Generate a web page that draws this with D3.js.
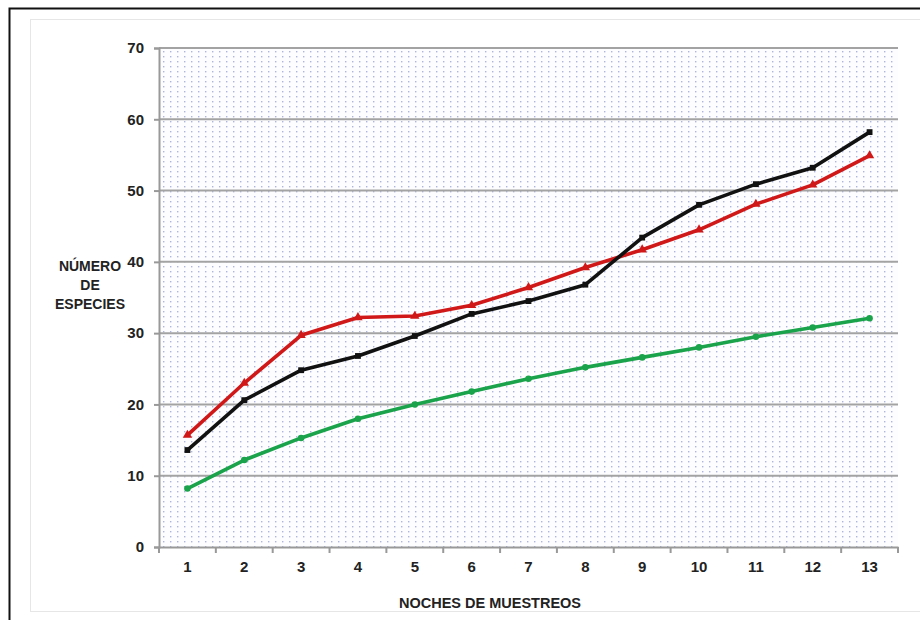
<!DOCTYPE html>
<html>
<head>
<meta charset="utf-8">
<script src="https://cdn.jsdelivr.net/npm/d3@7"></script>
<style>
  body { margin: 0; background: #fff; }
  text { font-family: "Liberation Sans Narrow", "Liberation Sans", Arial, sans-serif; font-weight: bold; fill: #222; }
</style>
</head>
<body>
<script>
const width = 920;
const height = 620;

// datos
const noches = ["1","2","3","4","5","6","7","8","9","10","11","12","13"];
const negra = [13.6, 20.6, 24.8, 26.8, 29.6, 32.7, 34.5, 36.8, 43.4, 48.0, 50.9, 53.2, 58.2];
const roja = [15.7, 23.0, 29.7, 32.2, 32.4, 33.9, 36.4, 39.2, 41.7, 44.5, 48.1, 50.8, 54.9];
const verde = [8.2, 12.2, 15.3, 18.0, 20.0, 21.8, 23.6, 25.2, 26.6, 28.0, 29.5, 30.8, 32.1];
const yTicks = [0, 10, 20, 30, 40, 50, 60, 70];

const pLeft = 159, pRight = 898, pTop = 48, pBottom = 547;

const svg = d3.select("body").append("svg")
  .attr("width", width)
  .attr("height", height);

// marco
svg.append("rect")
  .attr("x", 9.5).attr("y", 8.5)
  .attr("width", 920).attr("height", 640)
  .attr("fill", "none").attr("stroke", "#111").attr("stroke-width", 2);
svg.append("rect")
  .attr("x", 30.5).attr("y", 19.5)
  .attr("width", 900).attr("height", 592)
  .attr("fill", "none").attr("stroke", "#e6e6e6").attr("stroke-width", 1);

// patron de puntos
const defs = svg.append("defs");
const pat = defs.append("pattern")
  .attr("id", "dots")
  .attr("patternUnits", "userSpaceOnUse")
  .attr("x", pLeft + 3).attr("y", pTop + 2)
  .attr("width", 7).attr("height", 5);
pat.append("rect").attr("width", 7).attr("height", 5).attr("fill", "#fdfdff");
pat.append("rect").attr("x", 1).attr("y", 1).attr("width", 1.4).attr("height", 1.4).attr("fill", "#adb5de");

const x = d3.scaleBand()
  .domain(noches)
  .range([pLeft, pRight]);

const y = d3.scaleLinear()
  .domain([0, 70])
  .range([pBottom, pTop]);

svg.append("rect")
  .attr("x", pLeft).attr("y", pTop)
  .attr("width", pRight - pLeft).attr("height", pBottom - pTop)
  .attr("fill", "url(#dots)");

// lineas de cuadricula
svg.selectAll(".grid")
  .data(yTicks.filter(d => d > 0))
  .enter()
  .append("line")
  .attr("class", "grid")
  .attr("x1", pLeft).attr("x2", pRight)
  .attr("y1", d => y(d)).attr("y2", d => y(d))
  .attr("stroke", "#a3a3a3").attr("stroke-width", 2);

// eje y
const yAxis = svg.append("g")
  .attr("transform", `translate(${pLeft},0)`)
  .call(d3.axisLeft(y).tickValues(yTicks).tickSize(5).tickPadding(10));
yAxis.select(".domain").attr("stroke", "#999").attr("stroke-width", 2);
yAxis.selectAll(".tick line").attr("stroke", "#999").attr("stroke-width", 2);
yAxis.selectAll("text").attr("font-size", 15).attr("fill", "#222");

// eje x
const xAxis = svg.append("g")
  .attr("transform", `translate(0,${pBottom})`)
  .call(d3.axisBottom(x).tickSize(0).tickPadding(14));
xAxis.select(".domain").attr("stroke", "#999").attr("stroke-width", 2);
xAxis.selectAll("text").attr("font-size", 15).attr("fill", "#222");
svg.selectAll(".xtick")
  .data(noches.concat(["fin"]))
  .enter()
  .append("line")
  .attr("class", "xtick")
  .attr("x1", (d, i) => pLeft + i * x.step())
  .attr("x2", (d, i) => pLeft + i * x.step())
  .attr("y1", pBottom).attr("y2", pBottom + 6)
  .attr("stroke", "#999").attr("stroke-width", 2);

// titulos
svg.append("text")
  .attr("x", 490).attr("y", 608)
  .attr("text-anchor", "middle")
  .attr("font-size", 14.5)
  .text("NOCHES DE MUESTREOS");

const yt = svg.append("text")
  .attr("text-anchor", "middle")
  .attr("font-size", 14);
["NÚMERO", "DE", "ESPECIES"].forEach((t, i) => {
  yt.append("tspan").attr("x", 90).attr("y", 271 + i * 19).text(t);
});

// series
const cx = (d, i) => x(noches[i]) + x.bandwidth() / 2;
const line = d3.line().x(cx).y(d => y(d));

const series = [
  {vals: verde, color: "#1aa34a", shape: d3.symbolCircle, size: 34},
  {vals: roja, color: "#d01818", shape: d3.symbolTriangle, size: 38},
  {vals: negra, color: "#111111", shape: d3.symbolSquare, size: 34}
];

series.forEach(s => {
  svg.append("path")
    .datum(s.vals)
    .attr("d", line)
    .attr("fill", "none")
    .attr("stroke", s.color)
    .attr("stroke-width", 3.6)
    .attr("stroke-linejoin", "round");
  svg.selectAll(null)
    .data(s.vals)
    .enter()
    .append("path")
    .attr("d", d3.symbol().type(s.shape).size(s.size))
    .attr("transform", (d, i) => `translate(${cx(d, i)},${y(d)})`)
    .attr("fill", s.color);
});
</script>
</body>
</html>
